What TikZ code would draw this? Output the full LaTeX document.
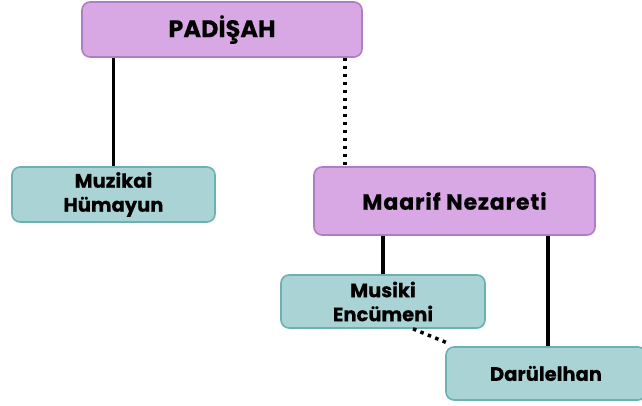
\documentclass[tikz,border=0pt]{standalone}
\usepackage{fontspec}
\setmainfont{Poppins}[BoldFeatures={FakeBold=0.4}]
\definecolor{boxpurple}{HTML}{D7A8E3}
\definecolor{edgepurple}{HTML}{B27CC4}
\definecolor{boxteal}{HTML}{A9D3D4}
\definecolor{edgeteal}{HTML}{6DB0B1}
\begin{document}
\begin{tikzpicture}[x=1pt,y=-1pt,
  box/.style={draw, line width=1.6pt, rounded corners=8pt, align=center,
    font=\bfseries\fontsize{19.5}{24}\selectfont, inner sep=0pt},
  purplebox/.style={box, fill=boxpurple, draw=edgepurple},
  tealbox/.style={box, fill=boxteal, draw=edgeteal},
  link/.style={line width=3.5pt, black},
  dotlink/.style={line width=3.5pt, black, dash pattern=on 3.5pt off 4.5pt}]
\useasboundingbox (0,0) rectangle (642,405);
% fixed x positions of the vertical connectors
\coordinate (p2) at (345,57);
\coordinate (m1) at (383,235);
\coordinate (m2) at (548,235);
% boxes
\node[purplebox, minimum width=280pt, minimum height=55pt,
  font=\bfseries\fontsize{24}{28}\selectfont] (pad) at (222,29.5) {PADİŞAH};
\node[tealbox, minimum width=203pt, minimum height=55pt] (muz) at (113.5,194.5) {Muzikai\\Hümayun};
\node[purplebox, minimum width=281pt, minimum height=68pt,
  font=\bfseries\fontsize{22}{26}\selectfont\addfontfeature{LetterSpace=4}] (maa) at (454.5,201) {Maarif Nezareti};
\node[tealbox, minimum width=204pt, minimum height=53pt] (mus) at (383,301.5) {Musiki\\Encümeni};
\node[tealbox, minimum width=200pt, minimum height=53pt] (dar) at (546,373.5) {Darülelhan};
% connectors
\draw[link] (pad.south -| muz.north) -- (muz.north);
\draw[dotlink] (pad.south -| p2) -- (p2 |- maa.north);
\draw[link] (maa.south -| m1) -- (mus.north);
\draw[link] (maa.south -| m2) -- (m2 |- dar.north);
\draw[dotlink] ([xshift=30pt]mus.south) -- ([xshift=-98pt,yshift=3pt]dar.north);
\end{tikzpicture}
\end{document}
